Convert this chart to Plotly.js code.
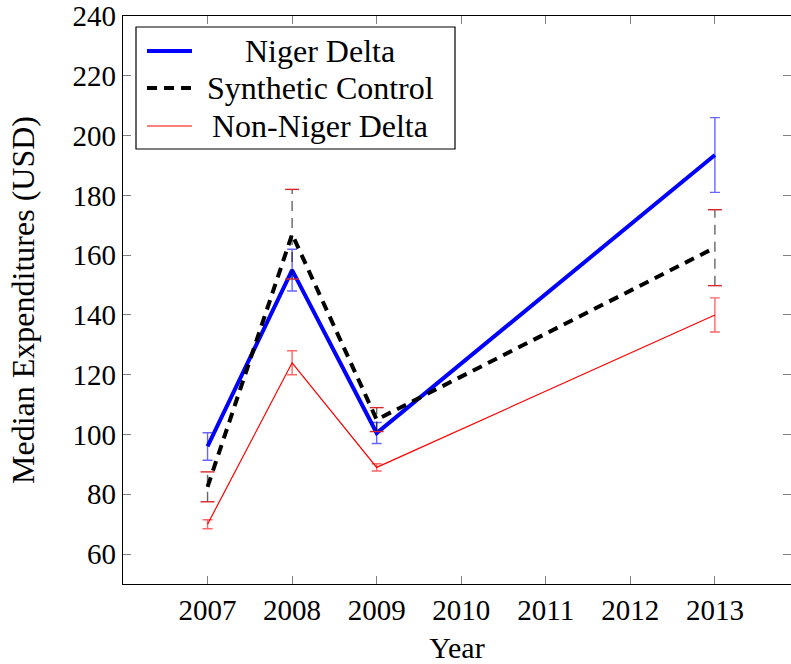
<!DOCTYPE html>
<html>
<head>
<meta charset="utf-8">
<script src="https://cdn.plot.ly/plotly-3.0.1.min.js"></script>
<style>
  html, body { margin: 0; padding: 0; background: #fff; }
  #chart { width: 791px; height: 664px; }
</style>
</head>
<body>
<div id="chart"></div>
<script>
// Survey years
const years = [2007, 2008, 2009, 2013];

// Median expenditures (USD) and their error margins
const nigerDelta     = [96, 155, 100.5, 193.5];
const nigerDeltaErr  = [4.6, 7, 3.5, 12.5];
const synthetic      = [82.5, 167, 105, 162.5];
const syntheticErr   = [5, 15, 4, 12.7];
const nonNiger       = [70, 124, 89, 140];
const nonNigerErr    = [1.5, 4, 1.2, 5.7];

const seriesNames = ["Niger Delta", "Synthetic Control", "Non-Niger Delta"];
const xTicks = [2007, 2008, 2009, 2010, 2011, 2012, 2013];
const yTicks = [60, 80, 100, 120, 140, 160, 180, 200, 220, 240];

const FONT = "Liberation Serif, Times New Roman, serif";
const DASH = "10px,7px";

// Plot-area geometry in pixels (used for the hand-built legend box)
const W = 791, H = 664;
const M = { l: 123, r: 0, t: 16, b: 80 };
const PW = W - M.l - M.r, PH = H - M.t - M.b;
const px = x => (x - M.l) / PW;
const py = y => (H - M.b - y) / PH;

// Dashed vertical error segments for the synthetic control
const scBarX = [], scBarY = [], scCapX = [], scCapY = [];
years.forEach((yr, i) => {
  scBarX.push(yr, yr, null);
  scBarY.push(synthetic[i] - syntheticErr[i], synthetic[i] + syntheticErr[i], null);
  scCapX.push(yr, yr);
  scCapY.push(synthetic[i] - syntheticErr[i], synthetic[i] + syntheticErr[i]);
});

const traces = [
  {
    x: years, y: nigerDelta, name: seriesNames[0], mode: "lines",
    line: { color: "#0000ff", width: 4 },
    error_y: { type: "data", array: nigerDeltaErr, visible: true,
               color: "rgba(0,0,255,0.6)", thickness: 1.4, width: 5 }
  },
  {
    x: years, y: synthetic, name: seriesNames[1], mode: "lines",
    line: { color: "#000000", width: 4, dash: DASH }
  },
  {
    x: scBarX, y: scBarY, mode: "lines", hoverinfo: "skip",
    line: { color: "rgba(0,0,0,0.6)", width: 1.4, dash: DASH }
  },
  {
    x: scCapX, y: scCapY, mode: "markers", hoverinfo: "skip",
    marker: { symbol: "line-ew-open", size: 10,
              line: { color: "rgba(0,0,0,0.6)", width: 1.4 } }
  },
  {
    x: years, y: nonNiger, name: seriesNames[2], mode: "lines",
    line: { color: "#ff0000", width: 1.2 },
    error_y: { type: "data", array: nonNigerErr, visible: true,
               color: "rgba(255,0,0,0.6)", thickness: 1.4, width: 5 }
  }
];

// Legend box drawn in paper space, text centred in its column
const legX0 = px(136), legX1 = px(455), legY0 = py(149), legY1 = py(27);
const sampleX0 = px(147), sampleX1 = px(192), textX = px(320);
const rowY = [py(51), py(88), py(126)];
const sampleStyles = [
  { color: "#0000ff", width: 4, dash: "solid" },
  { color: "#000000", width: 4, dash: DASH },
  { color: "#ff0000", width: 1.2, dash: "solid" }
];

const shapes = [
  { type: "rect", xref: "paper", yref: "paper", x0: legX0, x1: legX1, y0: legY0, y1: legY1,
    line: { color: "#000", width: 1.2 }, fillcolor: "#fff", layer: "above" }
];
const annotations = [];
seriesNames.forEach((name, i) => {
  shapes.push({ type: "line", xref: "paper", yref: "paper",
    x0: sampleX0, x1: sampleX1, y0: rowY[i], y1: rowY[i],
    line: sampleStyles[i], layer: "above" });
  annotations.push({ xref: "paper", yref: "paper", x: textX, y: rowY[i],
    text: name, showarrow: false, xanchor: "center", yanchor: "middle",
    font: { family: FONT, size: 32, color: "#000" } });
});

const axisCommon = {
  showline: true, linecolor: "#000", linewidth: 1.2, mirror: "ticks",
  ticks: "inside", ticklen: 8, tickwidth: 1, tickcolor: "#808080",
  showgrid: false, zeroline: false,
  tickfont: { family: FONT, size: 29, color: "#000" }
};

const layout = {
  width: W, height: H,
  margin: M,
  paper_bgcolor: "#fff", plot_bgcolor: "#fff",
  showlegend: false,
  font: { family: FONT, color: "#000" },
  xaxis: Object.assign({}, axisCommon, {
    range: [2006, 2013.9], tickvals: xTicks, ticktext: xTicks.map(String),
    title: { text: "Year", font: { family: FONT, size: 30, color: "#000" }, standoff: 15 }
  }),
  yaxis: Object.assign({}, axisCommon, {
    range: [50, 240], tickvals: yTicks, ticktext: yTicks.map(String),
    title: { text: "Median Expenditures (USD)", font: { family: FONT, size: 32, color: "#000" }, standoff: 28 }
  }),
  shapes: shapes,
  annotations: annotations
};

Plotly.newPlot("chart", traces, layout, { displayModeBar: false, staticPlot: true });
</script>
</body>
</html>
